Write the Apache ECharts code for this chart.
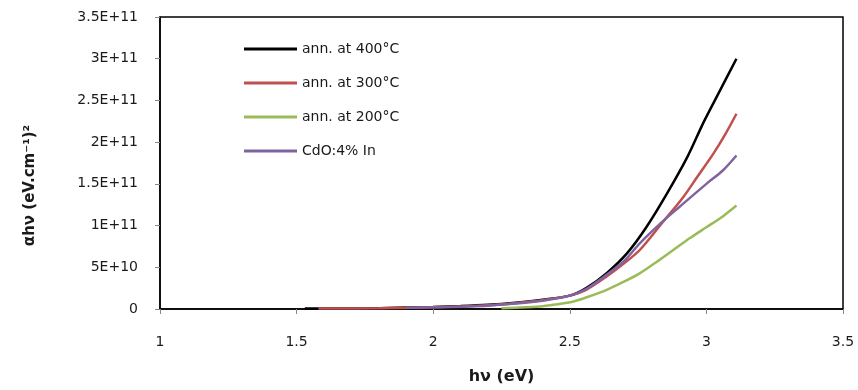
<!DOCTYPE html>
<html>
<head>
<meta charset="utf-8">
<script src="https://cdn.jsdelivr.net/npm/echarts@6/dist/echarts.min.js"></script>
<style>
  html, body {margin: 0; padding: 0; background: #fff;}
  #chart {width: 858px; height: 390px;}
</style>
</head>
<body>
<div id="chart"></div>
<script>
// series names, as in the legend
const seriesNames = ['ann. at 400°C', 'ann. at 300°C', 'ann. at 200°C', 'CdO:4% In'];
const colors = ['#000000', '#c0504d', '#9bbb59', '#8064a2'];

// [hv (eV), (αhν)²]
const ann400 = [[1.53, 0.5e9], [1.6, 0.6e9], [1.8, 1e9], [2.0, 2.5e9], [2.1, 3.5e9], [2.2, 5e9],
    [2.3, 7.5e9], [2.4, 1.1e10], [2.5, 1.6e10], [2.56, 2.5e10], [2.635, 4.3e10], [2.71, 6.7e10],
    [2.78, 9.8e10], [2.855, 1.38e11], [2.93, 1.82e11], [2.99, 2.24e11], [3.05, 2.62e11], [3.11, 3.0e11]];
const ann300 = [[1.58, 0.5e9], [1.8, 1e9], [2.0, 2e9], [2.2, 4.5e9], [2.3, 7e9], [2.4, 1.05e10],
    [2.5, 1.6e10], [2.56, 2.3e10], [2.635, 3.9e10], [2.7, 5.5e10], [2.757, 7.1e10], [2.84, 1.04e11],
    [2.915, 1.34e11], [2.97, 1.6e11], [3.025, 1.86e11], [3.07, 2.1e11], [3.11, 2.34e11]];
const ann200 = [[2.25, 1e9], [2.3, 1.5e9], [2.39, 3e9], [2.45, 5.5e9], [2.51, 8.7e9], [2.57, 1.5e10],
    [2.635, 2.3e10], [2.7, 3.3e10], [2.757, 4.3e10], [2.82, 5.7e10], [2.88, 7.1e10], [2.94, 8.5e10],
    [3.0, 9.8e10], [3.06, 1.11e11], [3.11, 1.24e11]];
const cdoIn = [[1.9, 1.5e9], [2.0, 2e9], [2.2, 4e9], [2.3, 6.5e9], [2.4, 1e10], [2.5, 1.6e10],
    [2.56, 2.4e10], [2.635, 4.1e10], [2.7, 5.8e10], [2.757, 7.9e10], [2.84, 1.05e11], [2.9, 1.22e11],
    [3.0, 1.5e11], [3.06, 1.66e11], [3.11, 1.84e11]];

const allData = [ann400, ann300, ann200, cdoIn];

// Excel-like scientific labels: 3.5E+11, 5E+10, 0
function sci(v) {
    if (v === 0) return '0';
    const e = Math.floor(Math.log10(v) + 1e-9);
    const m = Math.round(v / Math.pow(10, e) * 10) / 10;
    return m + 'E+' + e;
}

const font = 'DejaVu Sans';
const chart = echarts.init(document.getElementById('chart'));
chart.setOption({
    animation: false,
    backgroundColor: '#fff',
    color: colors,
    grid: {left: 160, right: 15, top: 17, bottom: 81, show: true, borderColor: '#000', borderWidth: 1.5},
    legend: {
        orient: 'vertical',
        left: 239,
        top: 36,
        icon: 'rect',
        itemWidth: 53,
        itemHeight: 3,
        itemGap: 18,
        data: seriesNames,
        textStyle: {fontFamily: font, fontSize: 14, color: '#1a1a1a', padding: [0, 0, 0, 0], lineHeight: 16}
    },
    xAxis: {
        type: 'value',
        min: 1, max: 3.5, interval: 0.5,
        name: 'hν (eV)',
        nameLocation: 'middle',
        nameGap: 60,
        nameTextStyle: {fontFamily: font, fontSize: 16, fontWeight: 'bold', color: '#1a1a1a'},
        axisLine: {lineStyle: {color: '#000', width: 1.5}},
        axisTick: {length: 5, lineStyle: {color: '#888'}},
        axisLabel: {fontFamily: font, fontSize: 14, color: '#1a1a1a', margin: 26},
        splitLine: {show: false}
    },
    yAxis: {
        type: 'value',
        min: 0, max: 3.5e11, interval: 5e10,
        name: 'αhν (eV.cm⁻¹)²',
        nameLocation: 'middle',
        nameGap: 122,
        nameTextStyle: {fontFamily: font, fontSize: 15, fontWeight: 'bold', color: '#1a1a1a', padding: [0, 45, 0, 0]},
        axisLine: {lineStyle: {color: '#000', width: 1.5}},
        axisTick: {length: 5, lineStyle: {color: '#888'}},
        axisLabel: {fontFamily: font, fontSize: 14, color: '#1a1a1a', margin: 22, formatter: sci},
        splitLine: {show: false}
    },
    series: seriesNames.map((name, i) => ({
        name: name,
        type: 'line',
        data: allData[i],
        smooth: 0.3,
        symbol: 'none',
        lineStyle: {width: 2.5, color: colors[i]}
    }))
});
</script>
</body>
</html>
